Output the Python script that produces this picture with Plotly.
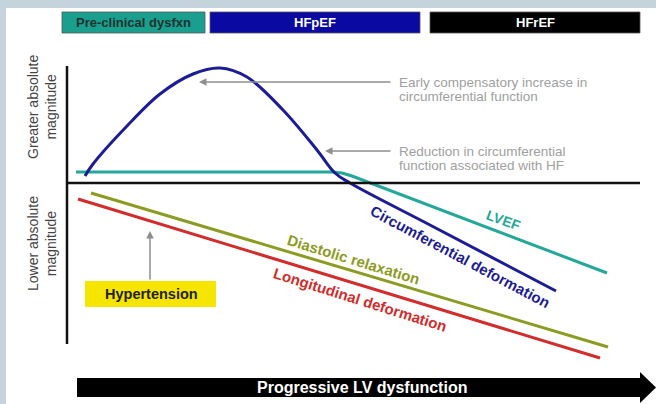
import plotly.graph_objects as go

# ---------------- data (x: progression units, y: magnitude relative to zero line) -------------
circ_x = [85, 93, 127, 160, 193, 220, 247, 283, 317, 335, 350, 430, 556]
circ_y = [7, 19, 57, 89, 109, 115, 106, 73, 33, 10, 0, -42, -108]

lvef_x = [76, 332, 342, 352, 607]
lvef_y = [11, 11, 10, 7, -90]

diast_x = [91, 608]
diast_y = [-10, -164]

long_x = [78, 600]
long_y = [-16, -175]

stage_labels = ["Pre-clinical dysfxn", "HFpEF", "HFrEF"]
stage_start = [62, 210, 430]
stage_end = [205, 420, 640]

# ---------------- styles ----------------
BORDER = "#c5d3dc"
C_BLUE = "#1c1c96"
C_TEAL = "#23a89a"
C_OLIVE = "#8c9c22"
C_RED = "#d42b2b"
GREY = "#8e8e8e"
FONT = "Liberation Sans, Arial, sans-serif"

Y0 = 183  # pixel row of the zero line (for layout helpers)


def py(p):
    return Y0 - p


fig = go.Figure()

for xs, ys, col, shp in [(long_x, long_y, C_RED, "linear"), (diast_x, diast_y, C_OLIVE, "linear"),
                         (lvef_x, lvef_y, C_TEAL, "linear"), (circ_x, circ_y, C_BLUE, "spline")]:
    fig.add_trace(go.Scatter(x=xs, y=ys, mode="lines",
                             line=dict(color=col, width=3, shape=shp),
                             hoverinfo="skip", showlegend=False))

shapes = []
# white panel
shapes.append(dict(type="rect", x0=6, x1=660, y0=py(8), y1=py(410), fillcolor="white",
                   line=dict(width=0), layer="below"))
# axes
shapes.append(dict(type="line", x0=67, x1=67, y0=py(66), y1=py(344),
                   line=dict(color="#111", width=2.5)))
shapes.append(dict(type="line", x0=67, x1=640, y0=0, y1=0,
                   line=dict(color="#111", width=2.5)))
# stage boxes
stage_fill = ["#1a9e8e", "#0a0aa2", "#000000"]
for s, e, fc in zip(stage_start, stage_end, stage_fill):
    shapes.append(dict(type="rect", x0=s, x1=e, y0=py(12), y1=py(33), fillcolor=fc,
                       line=dict(color="#555", width=0.8)))
# hypertension box
shapes.append(dict(type="rect", x0=85, x1=216, y0=py(281), y1=py(307), fillcolor="#f6e500",
                   line=dict(width=0)))
# progression arrow
shapes.append(dict(type="rect", x0=77, x1=641, y0=py(378), y1=py(397), fillcolor="black",
                   line=dict(width=0)))
shapes.append(dict(type="path",
                   path=f"M 640 {py(372)} L 656 {py(387.5)} L 640 {py(403)} Z",
                   fillcolor="black", line=dict(width=0)))

ann = []
stage_text_col = ["#1e3330", "white", "white"]
for lab, s, e, tc in zip(stage_labels, stage_start, stage_end, stage_text_col):
    ann.append(dict(x=(s + e) / 2, y=py(22.5), text=f"<b>{lab}</b>", showarrow=False,
                    font=dict(family=FONT, size=13, color=tc)))

# y labels
ann.append(dict(x=42, y=py(107), text="Greater absolute<br>magnitude", textangle=-90,
                showarrow=False, font=dict(family=FONT, size=14, color="#444")))
ann.append(dict(x=42, y=py(244), text="Lower absolute<br>magnitude", textangle=-90,
                showarrow=False, font=dict(family=FONT, size=14, color="#444")))

# grey notes (one annotation per line for tight spacing)
for txt, yy in [("Early compensatory increase in", 82), ("circumferential function", 96),
                ("Reduction in circumferential", 151), ("function associated with HF", 165)]:
    ann.append(dict(x=397, y=py(yy), xanchor="left", yanchor="middle", text=txt,
                    showarrow=False, font=dict(family=FONT, size=13.5, color="#a0a0a0")))
for hx, hy, tx, ty in [(199, 82, 392, 82), (325, 151, 392, 151), (150, 231, 150, 281)]:
    ann.append(dict(x=hx, y=py(hy), ax=tx, ay=py(ty), axref="x", ayref="y", text="",
                    showarrow=True, arrowhead=2, arrowsize=1, arrowwidth=1.5, arrowcolor=GREY))

ann.append(dict(x=151, y=py(294), text="<b>Hypertension</b>", showarrow=False,
                font=dict(family=FONT, size=14.5, color="#222")))
ann.append(dict(x=362, y=py(387.5), text="<b>Progressive LV dysfunction</b>", showarrow=False,
                font=dict(family=FONT, size=16, color="white")))

# curve labels
ann.append(dict(x=503, y=py(220), text="<b>LVEF</b>", textangle=20, showarrow=False,
                font=dict(family=FONT, size=14, color=C_TEAL)))
ann.append(dict(x=460, y=py(256), text="<b>Circumferential deformation</b>", textangle=28,
                showarrow=False, font=dict(family=FONT, size=15, color=C_BLUE)))
ann.append(dict(x=354, y=py(259), text="<b>Diastolic relaxation</b>", textangle=17,
                showarrow=False, font=dict(family=FONT, size=15, color=C_OLIVE)))
ann.append(dict(x=360, y=py(299), text="<b>Longitudinal deformation</b>", textangle=17.5,
                showarrow=False, font=dict(family=FONT, size=15, color=C_RED)))

fig.update_layout(
    width=656, height=404, autosize=False,
    margin=dict(l=0, r=0, t=0, b=0),
    paper_bgcolor=BORDER, plot_bgcolor=BORDER,
    xaxis=dict(range=[0, 656], visible=False, fixedrange=True),
    yaxis=dict(range=[py(404), py(0)], visible=False, fixedrange=True),
    shapes=shapes, annotations=ann, showlegend=False,
)

fig.write_html("out.html", config={"displayModeBar": False},
               post_script="document.body.style.margin='0';document.body.style.overflow='hidden';")
